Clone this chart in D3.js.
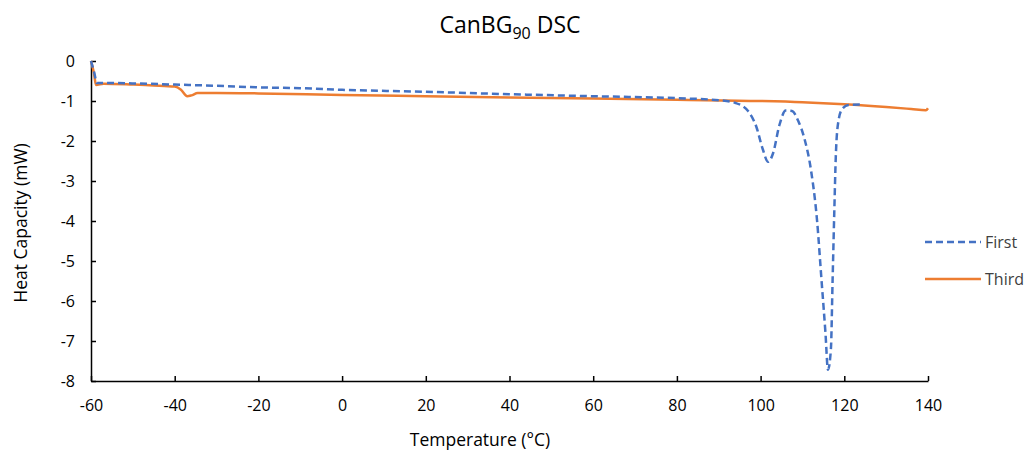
<!DOCTYPE html>
<meta charset="utf-8">
<head>
  <title>CanBG90 DSC</title>
</head>
<style>
body { margin: 0; background: #fff; }
text { font-family: "Open Sans", "Noto Sans", sans-serif; fill: #000; }
.tick text { font-size: 16px; }
</style>
<body>
<svg width="1029" height="453"></svg>
<script src="https://cdnjs.cloudflare.com/ajax/libs/d3/7.8.5/d3.min.js"></script>
<script>
// data
var firstRun = [
  [-60, 0], [-59.2, -0.3], [-58.6, -0.55], [-57, -0.55], [-50, -0.56], [-40, -0.59],
  [-30, -0.62], [-20, -0.66], [-10, -0.68], [0, -0.72], [20, -0.77], [40, -0.83],
  [60, -0.88], [80, -0.93], [90, -0.98], [94, -1.05], [97, -1.25], [99, -1.65],
  [100.5, -2.2], [101.8, -2.52], [103, -2.3], [104.5, -1.6], [106, -1.24], [107.5, -1.25],
  [109, -1.5], [110.5, -1.95], [112, -2.7], [113.5, -4], [114.5, -5.4], [115.5, -6.8],
  [116.1, -7.72], [116.8, -7.2], [117.2, -5.5], [117.6, -3.8], [118, -2.3], [118.6, -1.5],
  [119.5, -1.2], [121, -1.1], [124, -1.09]
];
var thirdRun = [
  [-60, 0], [-59.3, -0.3], [-58.8, -0.6], [-57, -0.57], [-50, -0.59], [-45, -0.61],
  [-40, -0.64], [-38.5, -0.72], [-37, -0.88], [-36, -0.86], [-34.5, -0.8], [-30, -0.8],
  [-20, -0.81], [0, -0.85], [20, -0.88], [40, -0.91], [60, -0.94], [80, -0.97],
  [100, -1.0], [110, -1.03], [120, -1.08], [130, -1.15], [136, -1.2], [139.5, -1.23], [140, -1.18]
];
var xTicks = [-60, -40, -20, 0, 20, 40, 60, 80, 100, 120, 140];
var yTicks = [0, -1, -2, -3, -4, -5, -6, -7, -8];
var seriesNames = ["First", "Third"];

var svg = d3.select("svg");
var x = d3.scaleLinear().domain([-60, 140]).range([91, 928]);
var y = d3.scaleLinear().domain([-8, 0]).range([381, 61]);

// plain hyphen for negatives, as in the original
var fmt = d => String(d);

// axes, ticks pointing inward like the original
svg.append("g")
  .attr("transform", "translate(0,381)")
  .call(d3.axisBottom(x).tickValues(xTicks).tickFormat(fmt).tickSizeInner(-5).tickSizeOuter(0).tickPadding(19))
  .call(g => g.selectAll("line, path").attr("stroke", "#000").attr("stroke-width", 1.5));

svg.append("g")
  .attr("transform", "translate(91,0)")
  .call(d3.axisLeft(y).tickValues(yTicks).tickFormat(fmt).tickSizeInner(-5).tickSizeOuter(0).tickPadding(16))
  .call(g => g.selectAll("line, path").attr("stroke", "#000").attr("stroke-width", 1.5));

var line = d3.line().x(d => x(d[0])).y(d => y(d[1])).curve(d3.curveMonotoneX);

svg.append("path").datum(thirdRun)
  .attr("d", line).attr("fill", "none")
  .attr("stroke", "#ED7D31").attr("stroke-width", 2.5);

svg.append("path").datum(firstRun)
  .attr("d", line).attr("fill", "none")
  .attr("stroke", "#4472C4").attr("stroke-width", 2.5)
  .attr("stroke-dasharray", "7,4");

// legend
var legend = svg.append("g").selectAll("g").data(seriesNames).enter().append("g")
  .attr("transform", (d, i) => "translate(925," + (242 + i * 37) + ")");
legend.append("line")
  .attr("x1", 0).attr("x2", 56).attr("y1", 0).attr("y2", 0)
  .attr("stroke", (d, i) => i ? "#ED7D31" : "#4472C4")
  .attr("stroke-width", 2.5)
  .attr("stroke-dasharray", (d, i) => i ? null : "7,4");
legend.append("text")
  .attr("x", 60).attr("y", 0).attr("dy", "0.35em")
  .style("font-size", "16px").style("fill", "#404040")
  .text(d => d);

// title with subscript
var title = svg.append("text")
  .attr("x", 510).attr("y", 33).attr("text-anchor", "middle")
  .style("font-size", "23px");
title.append("tspan").text("CanBG");
title.append("tspan").attr("dy", 6).style("font-size", "16px").text("90");
title.append("tspan").attr("dy", -6).text(" DSC");

svg.append("text")
  .attr("x", 480).attr("y", 446).attr("text-anchor", "middle")
  .style("font-size", "17.5px")
  .text("Temperature (°C)");

svg.append("text")
  .attr("transform", "translate(27,223) rotate(-90)")
  .attr("text-anchor", "middle")
  .style("font-size", "17.5px")
  .text("Heat Capacity (mW)");
</script>
</body>
</html>
